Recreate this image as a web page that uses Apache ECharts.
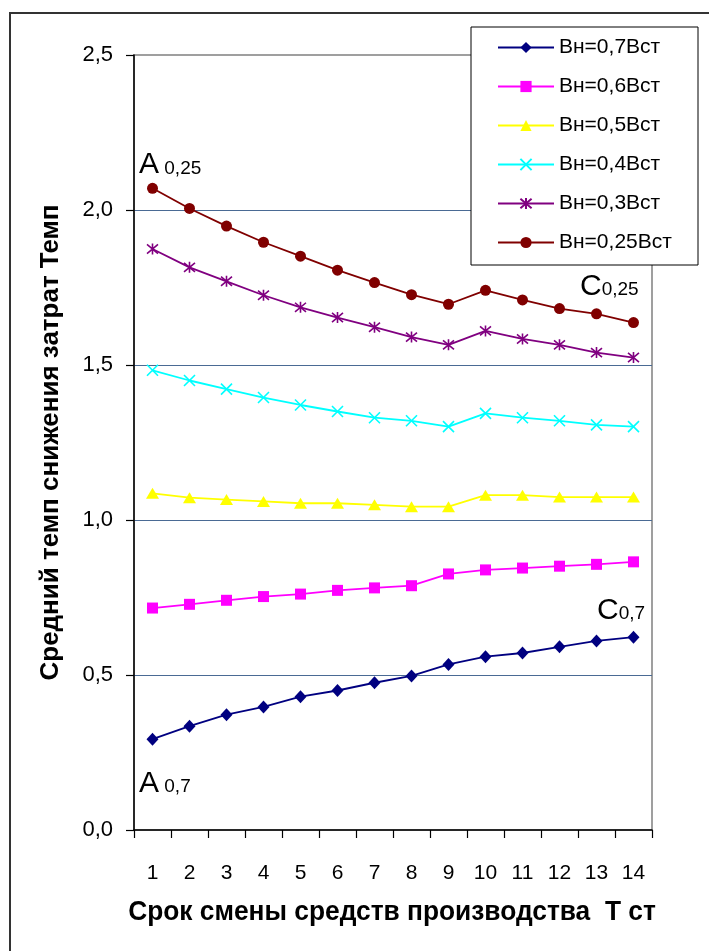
<!DOCTYPE html>
<html>
<head>
<meta charset="utf-8">
<script src="https://cdn.jsdelivr.net/npm/echarts@6/dist/echarts.min.js"></script>
<style>
html,body{margin:0;padding:0;background:#fff;}
#chart{width:709px;height:951px;}
</style>
</head>
<body>
<div id="chart"></div>
<script>
const categories = ['1','2','3','4','5','6','7','8','9','10','11','12','13','14'];
const yTickLabels = ['0,0','0,5','1,0','1,5','2,0','2,5'];
const seriesNames = ['Вн=0,7Вст','Вн=0,6Вст','Вн=0,5Вст','Вн=0,4Вст','Вн=0,3Вст','Вн=0,25Вст'];
const s07 = [0.293,0.335,0.372,0.397,0.430,0.450,0.475,0.497,0.534,0.559,0.571,0.591,0.610,0.622];
const s06 = [0.716,0.728,0.741,0.753,0.761,0.773,0.781,0.788,0.826,0.839,0.845,0.851,0.857,0.865];
const s05 = [1.086,1.072,1.066,1.060,1.054,1.054,1.049,1.043,1.043,1.080,1.080,1.074,1.074,1.074];
const s04 = [1.483,1.450,1.422,1.395,1.371,1.350,1.330,1.320,1.301,1.344,1.330,1.320,1.307,1.301];
const s03 = [1.874,1.815,1.770,1.725,1.686,1.653,1.622,1.590,1.565,1.610,1.584,1.565,1.540,1.524];
const s025 = [2.070,2.005,1.948,1.896,1.851,1.806,1.766,1.727,1.696,1.741,1.710,1.682,1.665,1.637];
const xTitle = 'Срок смены средств производства  Т ст';
const yTitle = 'Средний темп снижения затрат Темп';

const FONT = "'Liberation Sans', Arial, sans-serif";

const rich = {
  a: {fontSize: 30, fontFamily: FONT, color: '#000', verticalAlign: 'bottom'},
  b: {fontSize: 19, fontFamily: FONT, color: '#000', verticalAlign: 'bottom', padding: [0,0,2,0]}
};
function annotate(arr, marks) {
  return arr.map((v, i) => {
    const m = marks.find(k => k.idx === i);
    if (!m) return v;
    return {
      value: v,
      label: {
        show: true, position: m.pos, distance: 0, align: 'left',
        verticalAlign: m.pos === 'top' ? 'bottom' : 'top',
        offset: m.offset, formatter: m.text, rich: rich
      }
    };
  });
}
const d07 = annotate(s07, [
  {idx: 0, text: '{a|A}{b| 0,7}', pos: 'bottom', offset: [-13.5, 23]},
  {idx: 13, text: '{a|C}{b|0,7}', pos: 'top', offset: [-36.5, -5]}
]);
const d025 = annotate(s025, [
  {idx: 0, text: '{a|A}{b| 0,25}', pos: 'top', offset: [-13.5, -3]},
  {idx: 13, text: '{a|C}{b|0,25}', pos: 'top', offset: [-53.5, -15.4]}
]);

const X_PATH = 'path://M0,0L10,10M10,0L0,10';
const AST_PATH = 'path://M0,0L10,10M10,0L0,10M5,-1L5,11';

const defs = [
  {name: seriesNames[0], data: d07, color: '#000080', symbol: 'diamond', size: [12,13], stroke: false},
  {name: seriesNames[1], data: s06, color: '#FF00FF', symbol: 'rect', size: 11, stroke: false},
  {name: seriesNames[2], data: s05, color: '#FFFF00', symbol: 'triangle', size: [13,11], stroke: false},
  {name: seriesNames[3], data: s04, color: '#00FFFF', symbol: X_PATH, size: 11, stroke: true},
  {name: seriesNames[4], data: s03, color: '#800080', symbol: AST_PATH, size: 11, stroke: true},
  {name: seriesNames[5], data: d025, color: '#800000', symbol: 'circle', size: 11, stroke: false}
];

const series = defs.map(d => ({
  type: 'line',
  name: d.name,
  data: d.data,
  symbol: d.symbol,
  symbolSize: d.size,
  showAllSymbol: true,
  lineStyle: {color: d.color, width: 1.8},
  itemStyle: d.stroke
    ? {color: 'rgba(0,0,0,0)', borderColor: d.color, borderWidth: 1.6}
    : {color: d.color, borderWidth: 0},
  emphasis: {disabled: true},
  z: 3
}));

const chart = echarts.init(document.getElementById('chart'), null, {renderer: 'canvas'});
chart.setOption({
  animation: false,
  backgroundColor: '#fff',
  textStyle: {fontFamily: FONT},
  grid: {left: 134, top: 55, right: 57, bottom: 121, show: true, borderColor: '#808080', borderWidth: 1.5, backgroundColor: 'transparent'},
  graphic: [
    {type: 'rect', shape: {x: 10, y: 13, width: 760, height: 1000}, style: {fill: 'none', stroke: '#333', lineWidth: 2}, z: 1, silent: true},
    {type: 'rect', shape: {x: 471, y: 27, width: 227, height: 238}, style: {fill: '#fff', stroke: '#000', lineWidth: 1}, z: 10, silent: true},
    {type: 'text', x: 392, y: 912, scaleX: 0.94, z: 5, silent: true,
      style: {text: xTitle, fontSize: 28, fontWeight: 'bold', fontFamily: FONT, fill: '#000', align: 'center', verticalAlign: 'middle'}}
  ],
  legend: {
    left: 497, top: 37, orient: 'vertical', padding: 0,
    itemWidth: 56, itemHeight: 14, itemGap: 18,
    textStyle: {fontSize: 21, fontFamily: FONT, color: '#000', lineHeight: 20},
    data: seriesNames,
    selectedMode: false,
    z: 11
  },
  xAxis: {
    type: 'category',
    data: categories,
    boundaryGap: true,
    axisLine: {lineStyle: {color: '#000', width: 1.5}},
    axisTick: {show: true, length: 8, inside: false, lineStyle: {color: '#000', width: 1.2}},
    axisLabel: {fontSize: 21, color: '#000', margin: 33, interval: 0, fontFamily: FONT},
    splitLine: {show: false}
  },
  yAxis: {
    type: 'value',
    min: 0, max: 2.5, interval: 0.5,
    axisLine: {show: true, lineStyle: {color: '#000', width: 1.5}},
    axisTick: {show: true, length: 8, inside: false, lineStyle: {color: '#000', width: 1.2}},
    axisLabel: {fontSize: 22, color: '#000', margin: 21, fontFamily: FONT,
      formatter: (v) => yTickLabels[Math.round(v / 0.5)]},
    splitLine: {show: true, showMinLine: false, showMaxLine: false, lineStyle: {color: '#4a6a94', width: 1.2}},
    name: yTitle,
    nameLocation: 'middle',
    nameGap: 70,
    nameTextStyle: {fontSize: 26, fontWeight: 'bold', color: '#000', fontFamily: FONT}
  },
  series: series
});
</script>
</body>
</html>
